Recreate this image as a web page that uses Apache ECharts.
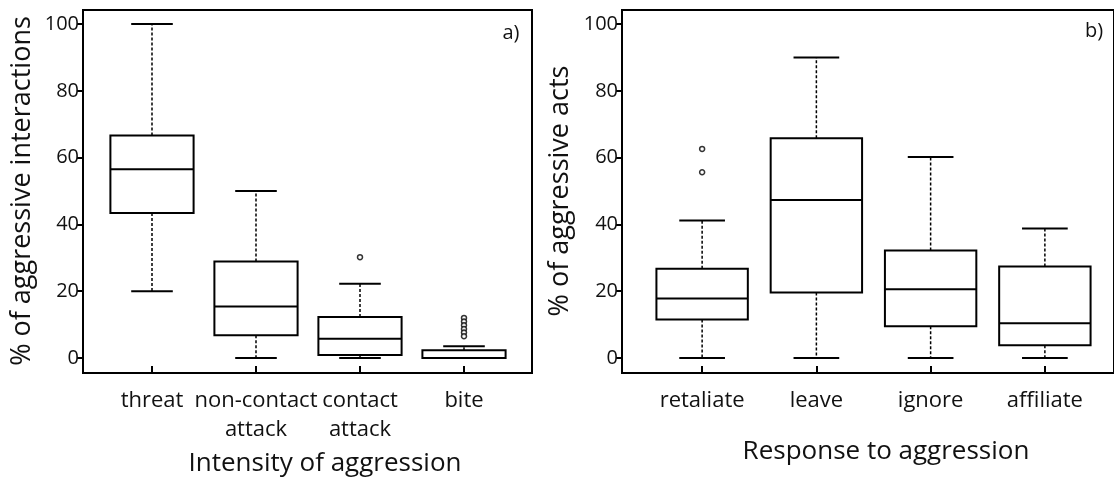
<!DOCTYPE html>
<html>
<head>
<meta charset="utf-8">
<script src="https://cdn.jsdelivr.net/npm/echarts@6/dist/echarts.min.js"></script>
<style>
html,body{margin:0;padding:0;background:#fff;}
#chart{width:1114px;height:480px;}
</style>
</head>
<body>
<div id="chart"></div>
<script>
// ---- data ----
const intensityCategories = ['threat', 'non-contact\nattack', 'contact\nattack', 'bite'];
// [lower whisker, Q1, median, Q3, upper whisker]
const intensityStats = [
  [20, 43.4, 56.5, 66.6, 100],
  [0, 6.8, 15.4, 28.9, 50],
  [0, 0.9, 5.8, 12.3, 22.2],
  [0, 0, 0, 2.3, 3.5]
];
const intensityOutliers = [[2, 30.2], [3, 12.0], [3, 10.9], [3, 9.8], [3, 8.7], [3, 7.6], [3, 6.5]];

const responseCategories = ['retaliate', 'leave', 'ignore', 'affiliate'];
const responseStats = [
  [0, 11.5, 17.8, 26.7, 41.2],
  [0, 19.6, 47.3, 65.8, 90],
  [0, 9.5, 20.6, 32.2, 60.2],
  [0, 3.8, 10.4, 27.4, 38.8]
];
const responseOutliers = [[0, 62.6], [0, 55.6]];

const yMin = 0, yMax = 100, yStep = 20;

// ---- styling ----
const FONT = 'Open Sans';
const TXT = '#111';

function renderBox(params, api) {
  const x = api.value(0);
  const band = api.size([1, 0])[0];
  const bw = band * 0.8, cw = band * 0.4;
  const pLo = api.coord([x, api.value(1)]);
  const pQ1 = api.coord([x, api.value(2)]);
  const pMed = api.coord([x, api.value(3)]);
  const pQ3 = api.coord([x, api.value(4)]);
  const pHi = api.coord([x, api.value(5)]);
  const cx = pMed[0];
  const solid = {stroke: '#000', lineWidth: 2, fill: null};
  const dashed = {stroke: '#000', lineWidth: 1.5, lineDash: [3, 2], fill: null};
  return {
    type: 'group',
    children: [
      {type: 'line', shape: {x1: cx, y1: pQ3[1], x2: cx, y2: pHi[1]}, style: dashed},
      {type: 'line', shape: {x1: cx, y1: pQ1[1], x2: cx, y2: pLo[1]}, style: dashed},
      {type: 'line', shape: {x1: cx - cw / 2, y1: pHi[1], x2: cx + cw / 2, y2: pHi[1]}, style: solid},
      {type: 'line', shape: {x1: cx - cw / 2, y1: pLo[1], x2: cx + cw / 2, y2: pLo[1]}, style: solid},
      {type: 'rect', shape: {x: cx - bw / 2, y: pQ3[1], width: bw, height: pQ1[1] - pQ3[1]},
        style: {stroke: '#000', lineWidth: 2, fill: '#fff'}},
      {type: 'line', shape: {x1: cx - bw / 2, y1: pMed[1], x2: cx + bw / 2, y2: pMed[1]}, style: solid}
    ]
  };
}

function withIndex(stats) {
  return stats.map((s, i) => [i].concat(s));
}

function hiddenVal(gi) {
  return {gridIndex: gi, type: 'value', min: 0, max: 1, show: false};
}

function hiddenCat(gi, cats) {
  return {gridIndex: gi, type: 'category', data: cats, show: false};
}

function catAxis(gi, cats) {
  return {
    gridIndex: gi, type: 'category', data: cats,
    axisLine: {show: true, lineStyle: {color: '#000', width: 2}},
    axisTick: {show: true, inside: true, length: 7, alignWithLabel: true, lineStyle: {color: '#000', width: 2}},
    axisLabel: {color: TXT, fontFamily: FONT, fontSize: 22, lineHeight: 29, margin: 13, interval: 0},
    splitLine: {show: false}
  };
}

function valAxis(gi, off) {
  return {
    gridIndex: gi, type: 'value', min: yMin, max: yMax, interval: yStep, offset: off,
    axisLine: {show: false},
    axisTick: {show: true, length: 6, lineStyle: {color: '#000', width: 2}},
    axisLabel: {color: TXT, fontFamily: FONT, fontSize: 20, margin: 4},
    splitLine: {show: false}
  };
}

const option = {
  animation: false,
  backgroundColor: '#fff',
  grid: [
    // 0: frame a
    {left: 83, top: 10, width: 449, height: 363, show: true, borderColor: '#000', borderWidth: 2, backgroundColor: 'transparent'},
    // 1: data a
    {left: 100, top: 24, width: 416, height: 334},
    // 2: x-axis a (bottom at frame bottom)
    {left: 100, top: 10, width: 416, height: 363},
    // 3: frame b
    {left: 622, top: 10, width: 500, height: 363, show: true, borderColor: '#000', borderWidth: 2, backgroundColor: 'transparent'},
    // 4: data b
    {left: 645, top: 24, width: 457, height: 334},
    // 5: x-axis b
    {left: 645, top: 10, width: 457, height: 363}
  ],
  xAxis: [
    hiddenVal(0), hiddenCat(1, intensityCategories), catAxis(2, intensityCategories),
    hiddenVal(3), hiddenCat(4, responseCategories), catAxis(5, responseCategories)
  ],
  yAxis: [
    hiddenVal(0), valAxis(1, 17), hiddenVal(2),
    hiddenVal(3), valAxis(4, 23), hiddenVal(5)
  ],
  series: [
    {type: 'custom', xAxisIndex: 1, yAxisIndex: 1, data: withIndex(intensityStats),
      encode: {x: 0, y: [1, 2, 3, 4, 5]}, renderItem: renderBox, z: 3},
    {type: 'scatter', xAxisIndex: 1, yAxisIndex: 1, data: intensityOutliers, symbol: 'circle', symbolSize: 5,
      itemStyle: {color: '#fff', borderColor: '#000', borderWidth: 1.5}, z: 4},
    {type: 'custom', xAxisIndex: 4, yAxisIndex: 4, data: withIndex(responseStats),
      encode: {x: 0, y: [1, 2, 3, 4, 5]}, renderItem: renderBox, z: 3},
    {type: 'scatter', xAxisIndex: 4, yAxisIndex: 4, data: responseOutliers, symbol: 'circle', symbolSize: 5,
      itemStyle: {color: '#fff', borderColor: '#000', borderWidth: 1.5}, z: 4}
  ],
  graphic: [
    {type: 'text', x: 22, y: 191, rotation: Math.PI / 2,
      style: {text: '% of aggressive interactions', font: '27px "Open Sans"', fill: TXT, align: 'center', verticalAlign: 'middle'}},
    {type: 'text', x: 325, y: 464,
      style: {text: 'Intensity of aggression', font: '26px "Open Sans"', fill: TXT, align: 'center', verticalAlign: 'middle'}},
    {type: 'text', x: 511, y: 33,
      style: {text: 'a)', font: '20px "Open Sans"', fill: TXT, align: 'center', verticalAlign: 'middle'}},
    {type: 'text', x: 560, y: 191, rotation: Math.PI / 2,
      style: {text: '% of aggressive acts', font: '27px "Open Sans"', fill: TXT, align: 'center', verticalAlign: 'middle'}},
    {type: 'text', x: 886, y: 452,
      style: {text: 'Response to aggression', font: '26px "Open Sans"', fill: TXT, align: 'center', verticalAlign: 'middle'}},
    {type: 'text', x: 1094, y: 31,
      style: {text: 'b)', font: '20px "Open Sans"', fill: TXT, align: 'center', verticalAlign: 'middle'}}
  ]
};

const chart = echarts.init(document.getElementById('chart'), null, {renderer: 'canvas'});
chart.setOption(option);
</script>
</body>
</html>
